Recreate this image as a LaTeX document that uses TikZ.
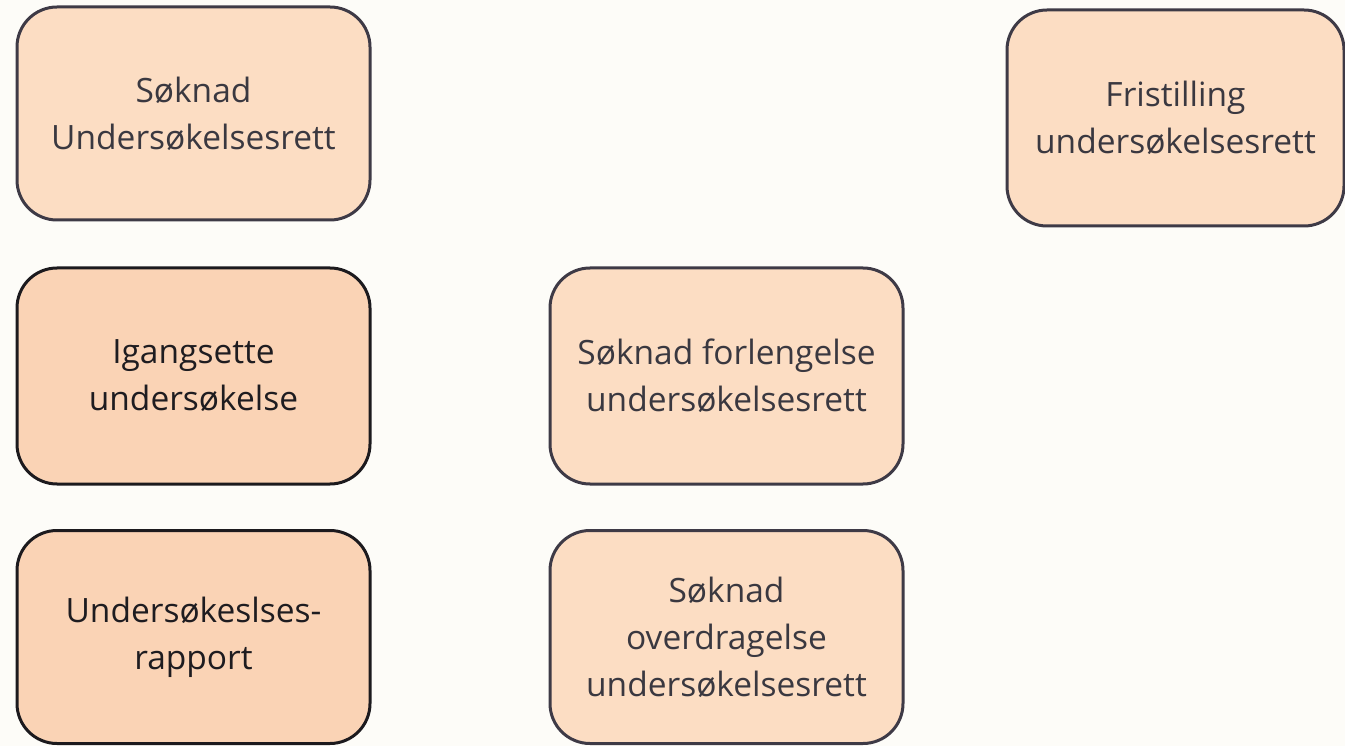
\documentclass[tikz,border=0pt]{standalone}
\usepackage{fontspec}
\setmainfont{Open Sans}
\definecolor{bg}{HTML}{FDFCF8}
\definecolor{fillA}{HTML}{FCDDC3}
\definecolor{fillB}{HTML}{FAD3B5}
\definecolor{lineA}{HTML}{3E3A46}
\definecolor{lineB}{HTML}{1C1A1E}
\definecolor{textA}{HTML}{3A3840}
\definecolor{textB}{HTML}{1E1C20}
\tikzset{
  box/.style={draw=lineA, fill=fillA, text=textA, line width=3pt, rounded corners=40pt,
    align=center, font=\fontsize{33.5}{47}\selectfont, inner sep=0pt},
  boxdark/.style={box, draw=lineB, fill=fillB, text=textB},
}
\begin{document}
\begin{tikzpicture}[x=1pt,y=-1pt]
\fill[bg] (0,0) rectangle (1345,746);
\useasboundingbox (0,0) rectangle (1345,746);
\node[box, minimum width=353pt, minimum height=213pt] (sok) at (193.5,113.5) {Søknad\\Undersøkelsesrett};
\node[box, minimum width=337pt, minimum height=216pt] (fri) at (1175.5,118) {Fristilling\\undersøkelsesrett};
\node[boxdark, minimum width=353pt, minimum height=216pt] (iga) at (193.5,376) {Igangsette\\undersøkelse};
\node[box, minimum width=353pt, minimum height=216pt] (forl) at (726.5,376) {Søknad forlengelse\\undersøkelsesrett};
\node[boxdark, minimum width=353pt, minimum height=213pt] (rap) at (193.5,637) {Undersøkeslses-\\rapport};
\node[box, minimum width=353pt, minimum height=213pt] (over) at (726.5,637) {Søknad\\overdragelse\\undersøkelsesrett};
\end{tikzpicture}
\end{document}
